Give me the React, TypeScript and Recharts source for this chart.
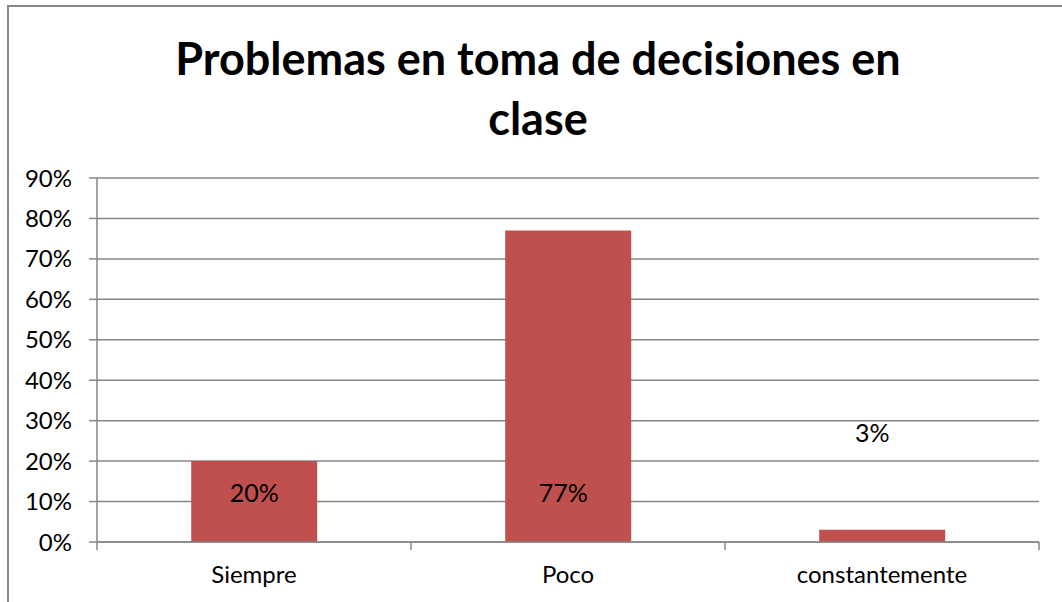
import { BarChart, Bar, XAxis, YAxis, CartesianGrid, LabelList } from "recharts"

const categories = ["Siempre", "Poco", "constantemente"]
const values = [0.2, 0.77, 0.03]
const valueLabels = ["20%", "77%", "3%"]
const yTicks = [0, 0.1, 0.2, 0.3, 0.4, 0.5, 0.6, 0.7, 0.8, 0.9]

const W = 1062
const H = 602
const margin = { top: 178, right: 23, left: 0, bottom: 30 }
const yAxisWidth = 97
const band = (W - margin.left - margin.right - yAxisWidth) / categories.length
const font = "Lato, 'Open Sans', sans-serif"
const grey = "#878787"

// manual label placement, like the hand-moved data labels in the original
const labelShift = [
  { dx: 0, dy: 31 },
  { dx: -5, dy: 261 },
  { dx: -10, dy: -98 },
]

function CategoryTick(props: any) {
  const { x, y, payload, index } = props
  const axisY = y - 24
  const left = x - band / 2
  const right = x + band / 2
  return (
    <g>
      <line x1={left} y1={axisY} x2={left} y2={axisY + 8} stroke={grey} strokeWidth={1.5} />
      {index === categories.length - 1 && (
        <line x1={right} y1={axisY} x2={right} y2={axisY + 8} stroke={grey} strokeWidth={1.5} />
      )}
      <text x={x} y={y} dy="0.71em" textAnchor="middle" fontSize={24} fontFamily={font} fill="#000">
        {payload.value}
      </text>
    </g>
  )
}

function ValueLabel(props: any) {
  const { x, y, width, index, value } = props
  const s = labelShift[index] || { dx: 0, dy: 0 }
  return (
    <text
      x={x + width / 2 + s.dx}
      y={y + s.dy}
      textAnchor="middle"
      dominantBaseline="central"
      fontSize={25}
      fontFamily={font}
      fill="#000"
    >
      {value}
    </text>
  )
}

export default function App() {
  const data = categories.map((c, i) => ({ name: c, value: values[i], label: valueLabels[i] }))

  return (
    <div style={{ position: "absolute", left: 0, top: 0, width: W, height: H, background: "#fff", overflow: "hidden" }}>
      <div
        style={{
          position: "absolute",
          left: 7,
          top: 5,
          width: W,
          height: H,
          border: `2px solid ${grey}`,
        }}
      />
      <div
        style={{
          position: "absolute",
          left: 0,
          width: 1076,
          top: 28,
          textAlign: "center",
          fontFamily: font,
          fontWeight: 700,
          fontSize: 45,
          lineHeight: "60px",
          color: "#000",
        }}
      >
        Problemas en toma de decisiones en
        <br />
        clase
      </div>
      <div style={{ position: "absolute", left: 0, top: 0 }}>
        <BarChart width={W} height={H} data={data} margin={margin} barCategoryGap="30%">
          <CartesianGrid vertical={false} stroke={grey} strokeWidth={1.5} />
          <XAxis
            dataKey="name"
            tickLine={false}
            tickSize={0}
            tickMargin={24}
            height={30}
            axisLine={{ stroke: grey, strokeWidth: 1.5 }}
            tick={<CategoryTick />}
            interval={0}
          />
          <YAxis
            width={yAxisWidth}
            domain={[0, 0.9]}
            ticks={yTicks}
            interval={0}
            tickSize={8}
            tickMargin={17}
            tickFormatter={(v: number) => `${Math.round(v * 100)}%`}
            tick={{ fontSize: 24, fontFamily: font, fill: "#000" }}
            tickLine={{ stroke: grey, strokeWidth: 1.5 }}
            axisLine={{ stroke: grey, strokeWidth: 1.5 }}
          />
          <Bar dataKey="value" fill="#C0504D" isAnimationActive={false}>
            <LabelList dataKey="label" content={<ValueLabel />} />
          </Bar>
        </BarChart>
      </div>
    </div>
  )
}
